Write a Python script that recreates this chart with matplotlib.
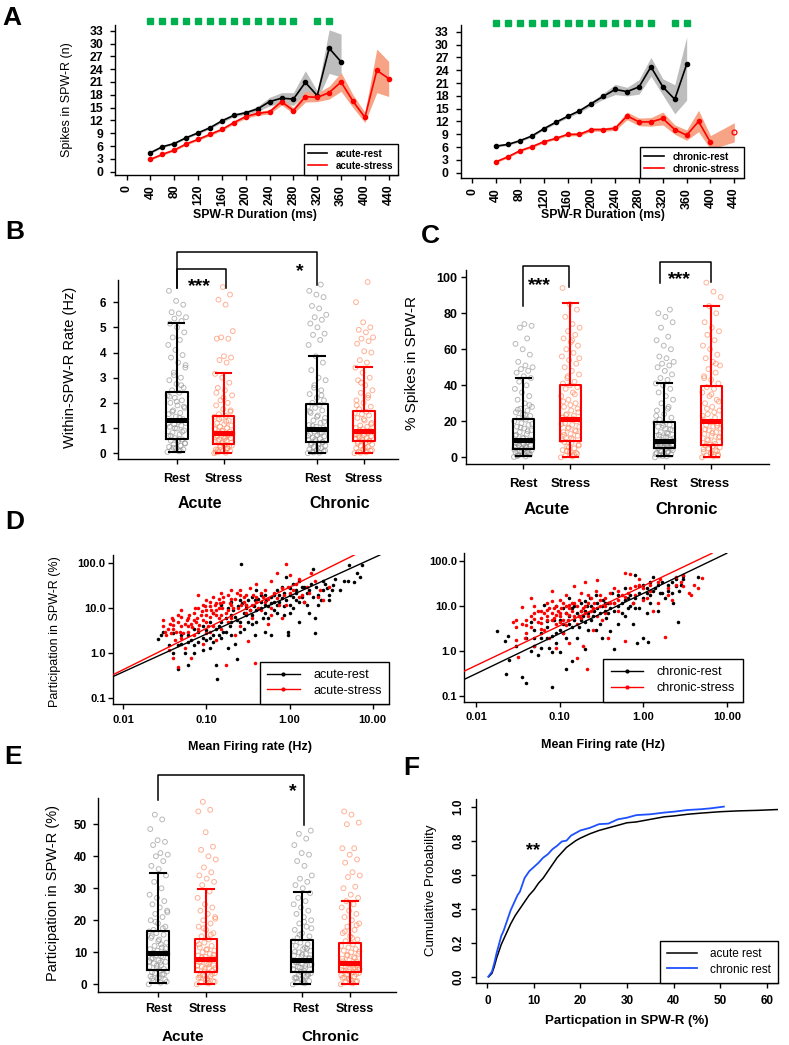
import numpy as np
import matplotlib
matplotlib.use("Agg")
import matplotlib.pyplot as plt
from matplotlib.lines import Line2D

plt.rcParams['font.family'] = ['Liberation Sans', 'DejaVu Sans']
plt.rcParams['axes.linewidth'] = 1.0
plt.rcParams['xtick.major.width'] = 1.0
plt.rcParams['ytick.major.width'] = 1.0
plt.rcParams['xtick.major.size'] = 3.6
plt.rcParams['ytick.major.size'] = 3.6

# ======================= DATA =======================
# ---- Panel A ----
duration_ticks = list(range(0, 441, 40))
spike_ticks = list(range(0, 34, 3))

acute_rest_dur = [40, 60, 80, 100, 120, 140, 160, 180, 200, 220, 240, 260, 280, 300, 320, 340, 360]
acute_rest = [4.45, 5.85, 6.6, 7.96, 9.1, 10.3, 11.9, 13.2, 13.8, 14.7, 16.4, 17.2, 17.0, 20.9, 17.8, 28.9, 25.7]
acute_rest_lo = [4.25, 5.65, 6.4, 7.75, 8.85, 10.0, 11.55, 12.85, 13.4, 14.1, 15.4, 16.0, 15.5, 18.2, 16.8, 23.0, 22.2]
acute_rest_hi = [4.65, 6.05, 6.8, 8.15, 9.35, 10.6, 12.25, 13.55, 14.2, 15.3, 17.4, 18.5, 18.5, 23.6, 18.9, 33.2, 32.2]

acute_stress_dur = [40, 60, 80, 100, 120, 140, 160, 180, 200, 220, 240, 260, 280, 300, 320, 340, 360, 380, 400, 420, 440]
acute_stress = [2.9, 4.06, 5.07, 6.5, 7.57, 8.74, 9.9, 11.5, 12.9, 13.65, 14.0, 16.4, 14.3, 17.55, 17.4, 18.5, 21.0, 16.5, 12.7, 23.7, 21.8]
acute_stress_lo = [2.7, 3.85, 4.85, 6.25, 7.3, 8.45, 9.6, 11.15, 12.5, 13.2, 13.5, 15.6, 13.6, 16.3, 16.4, 17.0, 18.8, 15.0, 11.5, 18.5, 17.6]
acute_stress_hi = [3.1, 4.25, 5.3, 6.75, 7.85, 9.05, 10.2, 11.85, 13.3, 14.1, 14.5, 17.2, 15.0, 18.8, 18.4, 20.0, 23.2, 18.0, 13.9, 28.7, 25.8]

acute_sig_dur = [40, 60, 80, 100, 120, 140, 160, 180, 200, 220, 240, 260, 280, 320, 340]

chronic_rest_dur = [40, 60, 80, 100, 120, 140, 160, 180, 200, 220, 240, 260, 280, 300, 320, 340, 360]
chronic_rest = [6.24, 6.63, 7.5, 8.6, 10.3, 11.8, 13.2, 14.5, 16.2, 17.9, 19.5, 19.0, 20.1, 24.8, 20.1, 17.2, 25.4]
chronic_rest_lo = [6.0, 6.4, 7.25, 8.35, 10.0, 11.5, 12.85, 14.1, 15.7, 17.2, 18.3, 18.0, 18.4, 22.6, 18.2, 13.8, 17.0]
chronic_rest_hi = [6.5, 6.9, 7.75, 8.85, 10.6, 12.1, 13.55, 14.9, 16.7, 18.6, 20.7, 20.0, 21.8, 27.0, 22.0, 20.6, 31.8]

chronic_stress_dur = [40, 60, 80, 100, 120, 140, 160, 180, 200, 220, 240, 260, 280, 300, 320, 340, 360, 380, 400, 440]
chronic_stress = [2.57, 3.74, 5.15, 6.1, 7.25, 8.03, 8.97, 9.0, 10.1, 10.1, 10.4, 13.3, 11.9, 11.9, 12.7, 10.1, 8.8, 12.0, 7.1, 9.6]
chronic_stress_lo = [2.35, 3.5, 4.9, 5.85, 7.0, 7.75, 8.65, 8.65, 9.7, 9.7, 9.9, 12.4, 11.0, 10.9, 11.2, 9.0, 7.6, 9.6, 5.5, 7.2]
chronic_stress_hi = [2.8, 4.0, 5.4, 6.35, 7.5, 8.3, 9.3, 9.35, 10.5, 10.5, 10.9, 14.2, 12.8, 12.9, 14.2, 11.2, 10.0, 14.6, 8.7, 11.7]

chronic_sig_dur = [40, 60, 80, 100, 120, 140, 160, 180, 200, 220, 240, 260, 280, 300, 340, 360]

# ---- Box panels (B, C, E): groups Acute-Rest, Acute-Stress, Chronic-Rest, Chronic-Stress ----
group_labels = ['Rest', 'Stress', 'Rest', 'Stress']
condition_labels = ['Acute', 'Chronic']

B_q1 = [0.56, 0.37, 0.44, 0.49]
B_med = [1.32, 0.82, 0.96, 0.88]
B_q3 = [2.42, 1.49, 1.94, 1.67]
B_lo = [0.04, 0.0, 0.0, 0.0]
B_hi = [5.16, 3.17, 3.87, 3.41]
B_acute_rest = [0.05, 0.08, 0.12, 0.15, 0.2, 0.25, 0.3, 0.35, 0.4, 0.45, 0.5, 0.55,
                0.6, 0.68, 0.75, 0.82, 0.9, 0.98, 1.05, 1.1, 1.15, 1.2, 1.25, 1.3,
                1.35, 1.45, 1.55, 1.6, 1.7, 1.8, 1.9, 2.0, 2.1, 2.2, 2.3, 2.4,
                2.5, 2.6, 2.75, 2.9, 3.0, 3.2, 3.4, 3.6, 3.8, 3.9, 4.1, 4.3, 4.5, 4.6, 4.8, 5.0, 5.15,
                5.25, 5.35, 5.4, 5.55, 5.6, 5.9, 6.05, 6.45,
                0.1, 0.22, 0.38, 0.52, 0.7, 0.85, 1.0, 1.18, 1.4, 1.65, 1.85, 2.05, 2.25, 2.7, 3.1, 3.5]
B_acute_stress = [0.0, 0.02, 0.05, 0.08, 0.1, 0.15, 0.2, 0.25, 0.3, 0.35, 0.12, 0.28,
                  0.4, 0.45, 0.5, 0.55, 0.6, 0.65, 0.7, 0.75, 0.8, 0.78, 0.62, 0.48,
                  0.85, 0.9, 0.95, 1.0, 1.05, 1.1, 1.15, 1.2, 1.3, 1.4, 1.45, 1.48,
                  1.55, 1.65, 1.75, 1.9, 2.0, 2.1, 2.3, 2.5, 2.6, 2.8, 3.0, 3.15,
                  3.6, 3.7, 3.8, 3.85, 4.55, 4.55, 4.6, 4.85, 5.9, 6.1, 6.3, 6.6,
                  0.04, 0.18, 0.32, 0.42, 0.58, 0.68, 0.72, 0.88, 0.98, 1.25, 1.35, 1.7, 2.2, 2.4]
B_chronic_rest = [0.0, 0.02, 0.05, 0.08, 0.12, 0.16, 0.2, 0.25, 0.3, 0.35, 0.4, 0.43,
                  0.48, 0.52, 0.57, 0.62, 0.67, 0.72, 0.77, 0.82, 0.86, 0.9, 0.93, 0.95,
                  1.0, 1.05, 1.12, 1.2, 1.3, 1.4, 1.5, 1.6, 1.7, 1.8, 1.85, 1.92,
                  2.0, 2.1, 2.2, 2.35, 2.5, 2.6, 2.9, 3.0, 3.3, 3.6, 3.85,
                  4.3, 4.5, 4.7, 4.75, 5.0, 5.15, 5.3, 5.4, 5.5, 5.75, 5.85, 6.2, 6.3, 6.45, 6.7,
                  0.03, 0.1, 0.22, 0.33, 0.45, 0.55, 0.7, 0.8, 1.08, 1.25, 1.45, 1.65, 2.3, 2.7]
B_chronic_stress = [0.0, 0.03, 0.06, 0.1, 0.15, 0.2, 0.25, 0.3, 0.35, 0.4, 0.45, 0.48,
                    0.52, 0.56, 0.6, 0.64, 0.68, 0.72, 0.76, 0.8, 0.84, 0.86, 0.87, 0.7,
                    0.9, 0.95, 1.0, 1.05, 1.1, 1.2, 1.3, 1.4, 1.5, 1.55, 1.6, 1.65,
                    1.75, 1.85, 2.0, 2.1, 2.2, 2.4, 2.5, 2.7, 2.9, 3.0, 3.2, 3.4,
                    3.6, 3.7, 4.0, 4.05, 4.35, 4.45, 4.55, 4.6, 4.8, 4.9, 5.0, 5.2, 6.0, 6.8,
                    0.02, 0.12, 0.22, 0.38, 0.5, 0.62, 0.74, 0.82, 0.92, 1.15, 1.35, 1.9, 2.3, 2.8]

C_q1 = [4.6, 9.0, 5.4, 6.8]
C_med = [9.6, 21.3, 9.3, 20.2]
C_q3 = [21.1, 40.0, 19.8, 39.6]
C_lo = [0.7, 0.0, 0.6, 0.0]
C_hi = [44.2, 85.9, 41.1, 84.0]
C_acute_rest = [0.2, 0.5, 1.0, 1.5, 2.0, 2.5, 3.0, 3.5, 4.0, 4.5, 1.2, 2.8,
                5, 5.5, 6, 6.5, 7, 7.5, 8, 8.5, 9, 9.5, 6.2, 7.8,
                10, 11, 12, 13, 14, 15, 16, 17, 18, 19, 20, 21,
                22, 23, 24, 25, 26, 27, 28, 30, 32, 34, 36, 38, 40, 42, 44,
                45, 47, 48, 49, 50, 51, 53, 57, 60, 63, 66, 72, 73, 74,
                0.8, 1.8, 3.2, 4.2, 5.2, 6.8, 8.8, 10.5, 12.5, 14.5, 16.5, 18.5, 23.5, 26.5, 29]
C_acute_stress = [0, 0.5, 1, 2, 3, 4, 5, 6, 7, 8, 8.5, 2.5, 5.5,
                  9.5, 10, 11, 12, 13, 14, 15, 16, 17, 18, 19, 20, 21,
                  22, 23, 24, 25, 26, 28, 30, 32, 34, 36, 38, 39, 40,
                  41, 42, 44, 46, 48, 50, 52, 54, 56, 58, 60, 62, 64, 66, 68, 70, 72, 74, 78, 82, 85, 94,
                  1.5, 3.5, 6.5, 10.5, 12.5, 14.5, 16.5, 18.5, 21.5, 23.5, 27, 29, 31, 35, 45, 55, 65]
C_chronic_rest = [0, 0.5, 1, 1.5, 2, 2.5, 3, 3.5, 4, 4.5, 5, 5.3,
                  5.6, 6, 6.4, 6.8, 7.2, 7.6, 8, 8.4, 8.8, 9.2, 7, 8.2,
                  10, 11, 12, 13, 14, 15, 16, 17, 18, 19, 19.5, 13.5,
                  21, 22, 24, 26, 28, 30, 32, 34, 36, 38, 40, 41,
                  43, 44, 46, 48, 50, 51, 52, 53, 55, 56, 60, 62, 65, 67, 72, 75, 78, 80, 82,
                  0.8, 1.8, 2.8, 3.8, 4.8, 5.8, 6.6, 7.8, 9.6, 10.5, 11.5, 12.5, 15.5, 17.5, 23, 27]
C_chronic_stress = [0, 0.5, 1, 1.5, 2, 3, 4, 5, 5.5, 6, 6.5, 3.5,
                    7, 8, 9, 10, 11, 12, 13, 14, 15, 16, 17, 18, 19, 20,
                    21, 22, 24, 26, 28, 30, 32, 34, 36, 38, 39,
                    41, 43, 45, 47, 49, 51, 53, 55, 57, 60, 62, 65, 68, 70, 72, 75, 80, 84,
                    89, 92, 97,
                    0.8, 2.5, 4.5, 7.5, 9.5, 11.5, 13.5, 15.5, 17.5, 19.5, 23, 25, 27, 31, 35, 44, 52]

E_q1 = [4.4, 3.75, 3.75, 3.85]
E_med = [9.7, 7.9, 7.6, 6.75]
E_q3 = [16.6, 14.2, 13.85, 12.8]
E_lo = [0.3, 0.0, 0.0, 0.0]
E_hi = [34.9, 29.8, 28.75, 26.1]
E_acute_rest = [0, 0.5, 1, 1.5, 2, 2.5, 3, 3.5, 4, 4.3, 1.8, 3.2,
                5, 5.5, 6, 6.5, 7, 7.5, 8, 8.5, 9, 9.5, 6.8, 8.2,
                10, 10.5, 11, 11.5, 12, 13, 14, 15, 15.5, 16, 16.5, 12.5,
                17, 18, 19, 20, 21, 22, 23, 24, 25, 26, 27, 28, 30, 32, 34,
                36, 37, 38.5, 40, 40.5, 41, 43.5, 44.5, 45, 48.5, 51.5, 53,
                0.8, 2.2, 3.8, 4.8, 5.8, 7.2, 8.8, 9.8, 11.2, 13.5, 14.5, 17.5, 19.5, 22.5]
E_acute_stress = [0, 0.3, 0.6, 1, 1.5, 2, 2.5, 3, 3.5, 1.2, 2.2, 3.2,
                  4, 4.5, 5, 5.5, 6, 6.5, 7, 7.5, 7.8, 5.2, 6.2, 7.2,
                  8.2, 8.6, 9, 9.5, 10, 10.5, 11, 11.5, 12, 13, 13.5, 14,
                  15, 16, 17, 18, 19, 20, 21, 22, 23, 24, 25, 27, 29,
                  31, 32, 33, 34, 35, 36.5, 39, 40, 42, 43, 47.5, 54, 54.5, 57,
                  0.8, 1.8, 2.8, 4.2, 4.8, 5.8, 6.8, 8.4, 9.2, 10.8, 12.5, 15.5, 17.5, 20.5]
E_chronic_rest = [0, 0.3, 0.6, 1, 1.5, 2, 2.5, 3, 3.5, 1.2, 2.2, 3.2,
                  4, 4.5, 5, 5.5, 6, 6.5, 7, 7.4, 5.2, 6.2, 4.2, 6.8,
                  8, 8.5, 9, 9.5, 10, 10.5, 11, 12, 12.5, 13, 13.5, 11.5,
                  14.5, 15, 16, 17, 18, 19, 20, 21, 22, 23, 24, 25, 26, 27, 28.5,
                  30, 31, 32, 33, 34, 37, 38.5, 40.5, 41, 43.5, 45.5, 47, 48,
                  0.8, 1.8, 2.8, 3.8, 4.8, 5.8, 7.2, 8.2, 9.2, 10.2, 11.2, 15.5, 17.5, 19.5]
E_chronic_stress = [0, 0.3, 0.6, 1, 1.5, 2, 2.5, 3, 3.5, 1.2, 2.2, 3.2,
                    4, 4.5, 5, 5.5, 6, 6.5, 4.2, 5.2, 6.2, 4.8, 5.8, 6.6,
                    7, 7.5, 8, 8.5, 9, 9.5, 10, 10.5, 11, 11.5, 12, 12.5,
                    13.5, 14, 15, 16, 17, 18, 19, 20, 21, 22, 23, 24, 25, 26,
                    27, 28, 30, 30.5, 33.5, 34, 35, 38, 39, 40.5, 42.5, 42.5, 50, 50.5, 53, 54,
                    0.8, 1.8, 2.8, 3.8, 4.4, 5.4, 6.4, 7.2, 8.2, 9.2, 10.2, 14.5, 16.5, 18.5]

# ---- Panel D (log-log scatter) ----
rate_ticks = [0.01, 0.1, 1, 10]
rate_ticklabels = ['0.01', '0.10', '1.00', '10.00']
part_ticks = [0.1, 1, 10, 100]
part_ticklabels = ['0.1', '1.0', '10.0', '100.0']

acute_rest_rate = [0.026, 0.028, 0.035, 0.04, 0.045, 0.05, 0.055, 0.06, 0.065, 0.07, 0.08, 0.09, 0.1, 0.11, 0.12,
                   0.13, 0.135, 0.14, 0.15, 0.17, 0.18, 0.2, 0.22, 0.23, 0.25, 0.26, 0.28, 0.3, 0.32, 0.35, 0.38,
                   0.4, 0.45, 0.5, 0.5, 0.55, 0.6, 0.6, 0.65, 0.7, 0.75, 0.8, 0.85, 0.9, 0.95, 0.95, 1.0, 1.1,
                   1.2, 1.3, 1.4, 1.5, 1.7, 1.8, 1.9, 2.0, 2.0, 2.2, 2.5, 2.8, 3.0, 3.2, 4.5, 5.2, 6.0, 6.5,
                   7.0, 7.5, 0.12, 0.15, 0.18, 0.2, 0.25, 0.3, 0.35, 0.4, 0.45, 0.28, 0.5, 0.7, 1.0, 1.2, 1.5,
                   2.5, 3.5, 0.16, 0.09, 0.11, 0.07, 0.06, 0.045, 0.04, 0.03, 0.2, 0.24, 0.65, 0.85, 1.1, 1.6,
                   2.2, 1.3, 0.38, 0.48, 0.33, 0.23, 0.13,
                   0.05, 0.06, 0.07, 0.08, 0.09, 0.1, 0.11, 0.12, 0.14, 0.15, 0.17, 0.19, 0.2, 0.21, 0.22, 0.25,
                   0.27, 0.3, 0.32, 0.35, 0.37, 0.4, 0.42, 0.45, 0.5, 0.52, 0.55, 0.6, 0.65, 0.7, 0.75, 0.8,
                   0.85, 0.9, 1.0, 1.0, 1.1, 1.2, 1.3, 1.4, 1.6, 1.7, 1.9, 2.1, 2.4, 2.7, 3.0, 3.3, 4.0, 5.0]
acute_rest_part = [2.1, 2.5, 1.5, 1.0, 0.45, 1.6, 1.0, 0.55, 2.0, 1.0, 3.0, 2.2, 2.0, 1.3, 2.5,
                   0.55, 0.27, 4.0, 2.2, 6.0, 1.3, 5.0, 1.6, 0.75, 3.0, 98, 8.0, 12, 5, 4.5, 15,
                   9, 10, 12, 3, 6, 2.5, 18, 14, 8, 20, 30, 7, 50, 3, 2.6, 20, 10,
                   25, 40, 18, 14, 8, 35, 75, 6, 2.8, 20, 40, 28, 15, 25, 40, 90, 38, 60,
                   50, 92, 8, 12, 10, 7, 15, 7, 18, 25, 14, 3.5, 20, 25, 12, 15, 30,
                   25, 45, 3, 4, 5, 3.5, 2.5, 1.5, 2.8, 3.0, 14, 11, 9, 22, 35, 22,
                   12, 5, 2.5, 6, 9, 5.5, 3.5,
                   2.5, 1.8, 1.5, 1.8, 1.2, 3.2, 2.2, 1.8, 2.5, 5, 3, 4, 2.5, 9, 6.5, 5,
                   13, 10, 15, 7, 11, 5, 16, 20, 8, 15, 11, 13, 20, 12, 14, 17,
                   11, 15, 28, 8, 18, 22, 14, 30, 12, 25, 18, 30, 15, 35, 20, 32, 25, 40]
acute_stress_rate = [0.03, 0.032, 0.033, 0.035, 0.036, 0.038, 0.04, 0.04, 0.042, 0.045, 0.045, 0.048, 0.05, 0.05,
                     0.055, 0.055, 0.06, 0.06, 0.065, 0.065, 0.07, 0.07, 0.075, 0.08, 0.08, 0.08, 0.085, 0.09,
                     0.09, 0.1, 0.1, 0.1, 0.1, 0.11, 0.11, 0.12, 0.12, 0.12, 0.13, 0.13, 0.14, 0.15, 0.15, 0.15,
                     0.16, 0.17, 0.18, 0.18, 0.18, 0.2, 0.2, 0.2, 0.22, 0.22, 0.24, 0.25, 0.25, 0.28, 0.3, 0.3,
                     0.32, 0.35, 0.35, 0.38, 0.4, 0.4, 0.45, 0.5, 0.5, 0.55, 0.6, 0.6, 0.7, 0.7, 0.8, 0.8, 0.9,
                     1.0, 1.0, 1.2, 1.4, 1.5, 1.6, 1.8, 2.0, 2.2, 2.5, 3.0, 0.04, 0.05, 0.06, 0.07, 0.09, 0.13,
                     0.9, 0.11, 0.14, 0.25, 0.45, 1.3, 0.33, 0.6,
                     0.03, 0.034, 0.037, 0.04, 0.043, 0.046, 0.05, 0.052, 0.058, 0.062, 0.067, 0.072, 0.078,
                     0.082, 0.088, 0.095, 0.1, 0.105, 0.11, 0.115, 0.125, 0.13, 0.14, 0.145, 0.155, 0.16, 0.17,
                     0.19, 0.2, 0.21, 0.23, 0.26, 0.28, 0.3, 0.33, 0.36, 0.4, 0.42, 0.48, 0.55, 0.65, 0.75,
                     0.85, 0.95, 1.1, 1.3, 1.7, 2.3]
acute_stress_part = [5.5, 3.0, 2.5, 1.2, 4.5, 6.0, 3.5, 0.8, 2.0, 5.0, 0.5, 3.0, 9.0, 2.2,
                     4.5, 1.3, 6, 3, 4.5, 0.8, 8, 2.5, 5, 20, 10, 3.5, 7, 12,
                     1.6, 15, 9, 5, 2.8, 11, 6.5, 18, 8, 4, 13, 2, 10, 22, 7, 3.5,
                     14, 0.55, 20, 9, 5, 25, 12, 6, 16, 2.5, 10, 25, 4, 14, 20, 8,
                     1.9, 12, 6, 0.6, 18, 35, 9, 25, 14, 4.5, 40, 10, 60, 17, 28, 6, 12,
                     55, 22, 35, 20, 14, 30, 60, 40, 18, 15, 30, 4.2, 6.5, 4, 5.5, 5.5, 7,
                     95, 3, 16, 20, 22, 45, 28, 7,
                     4, 3.5, 2.8, 5.5, 3, 7, 4, 2.8, 5.5, 7, 3.8, 10, 6,
                     4.2, 8.5, 11, 7, 4, 14, 9, 12, 9, 6, 13, 10, 18, 8,
                     13, 16, 10, 22, 12, 18, 12, 9, 20, 14, 10, 18, 16, 22, 12,
                     20, 30, 25, 18, 22, 25]
chronic_rest_rate = [0.018, 0.022, 0.023, 0.024, 0.025, 0.03, 0.035, 0.04, 0.045, 0.045, 0.05, 0.05, 0.055, 0.06,
                     0.065, 0.07, 0.075, 0.08, 0.08, 0.09, 0.09, 0.1, 0.1, 0.11, 0.12, 0.12, 0.13, 0.13, 0.14,
                     0.15, 0.16, 0.18, 0.18, 0.2, 0.2, 0.22, 0.23, 0.25, 0.27, 0.28, 0.3, 0.32, 0.35, 0.38, 0.4,
                     0.45, 0.45, 0.5, 0.5, 0.55, 0.6, 0.6, 0.7, 0.75, 0.8, 0.8, 0.85, 0.9, 1.0, 1.0, 1.1, 1.15,
                     1.2, 1.3, 1.4, 1.5, 1.7, 1.8, 2.0, 2.2, 2.5, 2.6, 2.7, 3.0, 4.5, 0.14, 0.17, 0.24, 0.33,
                     0.42, 0.65, 1.1, 1.6, 2.3, 0.06, 0.085, 0.11, 0.2, 0.27, 0.36, 0.9, 1.2, 0.07, 0.04,
                     0.05, 0.06, 0.07, 0.08, 0.09, 0.1, 0.11, 0.12, 0.13, 0.14, 0.15, 0.16, 0.17, 0.18, 0.19,
                     0.2, 0.21, 0.22, 0.24, 0.26, 0.28, 0.3, 0.32, 0.35, 0.38, 0.4, 0.45, 0.5, 0.55, 0.6, 0.65,
                     0.7, 0.75, 0.8, 0.9, 1.0, 1.1, 1.2, 1.3, 1.5, 1.7, 2.0, 2.2, 2.5, 2.8, 3.0]
chronic_rest_part = [2.8, 1.7, 0.32, 2.2, 0.65, 1.3, 0.27, 0.2, 1.0, 4.5, 1.3, 2.0, 0.85, 1.2,
                     11, 2.0, 1.2, 0.16, 0.95, 2.5, 10, 5, 0.95, 2.5, 7, 0.4, 4, 15, 0.6,
                     10, 2.0, 12, 5, 8, 1.1, 3, 15, 6, 18, 9, 4, 2, 12, 7, 2.8,
                     8, 1.1, 18, 4, 12, 25, 6, 10, 4, 15, 50, 1.5, 9, 30, 2.0, 20, 1.6,
                     12, 45, 25, 8, 35, 15, 30, 20, 40, 4.6, 22, 48, 45, 3.5, 6, 10, 14,
                     20, 15, 7, 20, 12, 2.5, 5, 9, 13, 3, 5.5, 28, 35, 4.8, 2.0,
                     3, 2, 3.5, 2.2, 1.5, 3, 4, 2, 6, 9, 5, 7, 3.5, 8, 6,
                     4.5, 10, 7, 5, 8, 12, 7, 10, 8, 12, 9, 12, 10, 7, 14, 9,
                     18, 12, 9, 20, 15, 25, 18, 22, 30, 20, 22, 35, 28, 30, 40]
chronic_stress_rate = [0.028, 0.03, 0.03, 0.032, 0.035, 0.038, 0.04, 0.045, 0.045, 0.05, 0.05, 0.055, 0.06, 0.06,
                       0.065, 0.07, 0.07, 0.075, 0.08, 0.08, 0.085, 0.09, 0.09, 0.1, 0.1, 0.11, 0.11, 0.12, 0.12,
                       0.13, 0.13, 0.14, 0.15, 0.15, 0.16, 0.16, 0.18, 0.18, 0.19, 0.2, 0.2, 0.21, 0.22, 0.24,
                       0.25, 0.27, 0.28, 0.3, 0.32, 0.35, 0.38, 0.4, 0.45, 0.5, 0.55, 0.6, 0.6, 0.65, 0.7, 0.75,
                       0.8, 0.9, 1.0, 1.1, 1.2, 1.3, 1.5, 1.6, 1.8, 2.0, 2.2, 2.5, 2.8, 3.0, 3.5, 3.7, 4.0, 4.5,
                       5.0, 0.05, 0.07, 0.09, 0.1, 0.13, 0.17, 0.25, 0.35, 0.04, 0.06, 0.08, 0.12, 0.22, 0.3, 0.5,
                       0.03, 0.035, 0.04, 0.045, 0.05, 0.055, 0.06, 0.065, 0.07, 0.075, 0.08, 0.085, 0.09, 0.095,
                       0.1, 0.105, 0.11, 0.12, 0.125, 0.13, 0.14, 0.15, 0.16, 0.17, 0.18, 0.19, 0.2, 0.22, 0.24,
                       0.26, 0.28, 0.3, 0.35, 0.4, 0.45, 0.5, 0.6, 0.7, 0.8, 0.9, 1.0, 1.2, 1.5, 2.0, 2.5, 3.0]
chronic_stress_part = [4.5, 3.5, 1.8, 0.75, 9.5, 2.0, 5, 15, 3.5, 7, 1.3, 4.5, 8, 5.5,
                       3, 6, 12, 2.0, 22, 5, 9, 4, 1.2, 14, 7, 2.5, 5, 18, 10,
                       1.5, 6.5, 8, 28, 12, 0.7, 4, 20, 8, 1.3, 35, 10, 0.4, 6, 15,
                       3, 22, 38, 10, 5, 15, 2.0, 12, 25, 8, 18, 55, 1.7, 20, 52, 12,
                       28, 40, 25, 15, 30, 8, 12, 40, 2.1, 25, 14, 45, 35, 50, 20, 18, 30, 25,
                       43, 10, 8.5, 6.5, 4.5, 11, 6, 9, 7, 2.5, 3.2, 13, 3.8, 12, 18, 14,
                       5, 4, 3.8, 6, 5.2, 8, 4.2, 7, 5, 9, 7, 5.5, 10, 8,
                       6, 9, 12, 7, 5, 9, 12, 6, 10, 14, 5.5, 9, 7, 18, 8,
                       12, 6, 14, 10, 20, 12, 22, 16, 25, 18, 30, 14, 22, 35, 18, 30, 28]

# fitted power-law lines: log10(part) = intercept + slope * log10(rate)
acute_fit_intercept = [1.267, 1.467]      # rest, stress
acute_fit_slope = [0.84, 0.915]
chronic_fit_intercept = [1.288, 1.453]
chronic_fit_slope = [0.893, 0.884]

# ---- Panel F (cumulative distributions) ----
acute_rest_cdf_x = [0.3, 1, 1.5, 2, 2.5, 3, 3.5, 4, 5, 6, 7, 8, 9, 10, 11, 12, 13, 14, 15, 16, 17, 18, 19, 20,
                    22, 24, 26, 28, 30, 32, 34, 36, 38, 40, 43, 46, 50, 54, 58, 62.5]
acute_rest_cdf_p = [0.0, 0.02, 0.06, 0.11, 0.15, 0.19, 0.22, 0.25, 0.31, 0.36, 0.40, 0.44, 0.48, 0.51, 0.55,
                    0.58, 0.62, 0.66, 0.70, 0.73, 0.76, 0.78, 0.80, 0.815, 0.84, 0.86, 0.875, 0.89, 0.905, 0.91,
                    0.92, 0.93, 0.94, 0.945, 0.955, 0.962, 0.97, 0.975, 0.978, 0.983]
chronic_rest_cdf_x = [0.2, 1, 1.5, 2, 2.5, 3, 3.5, 4, 4.5, 5, 5.5, 6, 6.5, 7, 7.5, 8, 9, 10, 11, 12, 13, 14, 15,
                      16, 17, 18, 19, 20, 22, 24, 26, 28, 30, 32, 35, 38, 40, 43, 46, 48, 50.8]
chronic_rest_cdf_p = [0.0, 0.03, 0.08, 0.14, 0.19, 0.24, 0.27, 0.31, 0.35, 0.39, 0.42, 0.45, 0.48, 0.5, 0.54,
                      0.58, 0.62, 0.645, 0.67, 0.7, 0.72, 0.75, 0.77, 0.795, 0.8, 0.83, 0.845, 0.86, 0.875,
                      0.897, 0.9, 0.925, 0.935, 0.95, 0.955, 0.965, 0.97, 0.98, 0.985, 0.99, 1.0]

# ======================= STYLE =======================
W, H = 789, 1045
RED = '#FF0000'
RED_BAND = '#F7A386'
GRAY_BAND = '#BDBDBD'
GREEN = '#00B050'
REST_PT = '#8A8A8A'
STRESS_PT = '#FF7F50'
BLUE = '#1E50FF'

fig = plt.figure(figsize=(W / 100, H / 100), dpi=100)


def add_ax(l, t, r, b):
    ax = fig.add_axes([l / W, 1 - b / H, (r - l) / W, (b - t) / H])
    ax.spines['top'].set_visible(False)
    ax.spines['right'].set_visible(False)
    return ax


def ftext(x, y, s, **kw):
    kw.setdefault('ha', 'center')
    kw.setdefault('va', 'center')
    fig.text(x / W, 1 - y / H, s, **kw)


def star_text(x, y, s, fs):
    # place so that the asterisk glyph centre sits at pixel (x, y)
    off = 0.56 * fs * 100 / 72
    fig.text(x / W, 1 - (y + off) / H, s, ha='center', va='baseline', fontsize=fs, fontweight='bold')


def jitter(n, w):
    k = np.arange(n)
    return ((k * 0.6180339887) % 1.0 - 0.5) * 2 * w


# ---------------- Panel A ----------------
def segments(x):
    x = np.asarray(x)
    breaks = np.where(np.diff(x) > 20)[0] + 1
    return np.split(np.arange(len(x)), breaks)


def panel_a(ax, rx, ry, rlo, rhi, sx, sy, slo, shi, sig, sig_y, labels, xlim, ylim):
    ax.fill_between(rx, rlo, rhi, color=GRAY_BAND, lw=0, zorder=1)
    ax.fill_between(sx, slo, shi, color=RED_BAND, lw=0, zorder=1)
    ax.plot(rx, ry, color='black', lw=1.2, marker='o', ms=3, zorder=3, label=labels[0])
    first = True
    for seg in segments(sx):
        xs = np.asarray(sx)[seg]
        ys = np.asarray(sy)[seg]
        if len(seg) > 1:
            ax.plot(xs, ys, color=RED, lw=1.2, marker='o', ms=3, zorder=3,
                    label=labels[1] if first else None)
            first = False
        else:
            ax.plot(xs, ys, ls='none', marker='o', ms=3.5, mfc='none', mec=RED, mew=0.9, zorder=3)
    ax.plot(sig, [sig_y] * len(sig), ls='none', marker='s', ms=4.4, color=GREEN, clip_on=False, zorder=4)
    ax.set_xlim(*xlim)
    ax.set_ylim(*ylim)
    ax.set_xticks(duration_ticks)
    ax.set_xticklabels([str(v) for v in duration_ticks], rotation=90, fontsize=8.8, fontweight='bold')
    ax.set_yticks(spike_ticks)
    ax.set_yticklabels([str(v) for v in spike_ticks], fontsize=8.8, fontweight='bold')
    ax.tick_params(axis='x', pad=3.5)
    ax.tick_params(axis='y', pad=5)
    handles = [Line2D([], [], color='black', lw=1.2), Line2D([], [], color=RED, lw=1.2)]
    leg = ax.legend(handles, labels, loc='lower right', bbox_to_anchor=(1, 0), borderaxespad=0,
                    fancybox=False, edgecolor='black', framealpha=1, handlelength=2.0,
                    handletextpad=0.9, borderpad=0.45, labelspacing=0.2,
                    prop={'size': 7, 'weight': 'bold'})
    leg.get_frame().set_linewidth(1.0)


axA1 = add_ax(115, 25, 398, 175)
panel_a(axA1, acute_rest_dur, acute_rest, acute_rest_lo, acute_rest_hi,
        acute_stress_dur, acute_stress, acute_stress_lo, acute_stress_hi,
        acute_sig_dur, 35.3, ['acute-rest', 'acute-stress'], (-19.6, 455.6), (-0.77, 34.33))
axA2 = add_ax(460.7, 25, 744, 178)
panel_a(axA2, chronic_rest_dur, chronic_rest, chronic_rest_lo, chronic_rest_hi,
        chronic_stress_dur, chronic_stress, chronic_stress_lo, chronic_stress_hi,
        chronic_sig_dur, 35.1, ['chronic-rest', 'chronic-stress'], (-19.5, 456.3), (-1.24, 34.6))
ftext(67, 100, 'Spikes in SPW-R (n)', rotation=90, fontsize=9)
ftext(255, 215, 'SPW-R Duration (ms)', fontsize=8.8, fontweight='bold')
ftext(603, 215, 'SPW-R Duration (ms)', fontsize=8.8, fontweight='bold')

# ---------------- Box panels ----------------
positions = [1, 2, 4, 5]
box_colors = ['black', RED, 'black', RED]
pt_colors = [REST_PT, STRESS_PT, REST_PT, STRESS_PT]


def box_panel(ax, q1, med, q3, lo, hi, groups, xlim, ylim, yticks, ytick_fs, ypad):
    for pos, vals, pc in zip(positions, groups, pt_colors):
        v = np.asarray(vals, dtype=float)
        ax.scatter(pos + jitter(len(v), 0.2), v, s=12, facecolors='none', edgecolors=pc,
                   linewidths=0.7, alpha=0.6, zorder=2, clip_on=False)
    for i, pos in enumerate(positions):
        st = [dict(q1=q1[i], med=med[i], q3=q3[i], whislo=lo[i], whishi=hi[i], fliers=[])]
        c = box_colors[i]
        ax.bxp(st, positions=[pos], widths=0.46, capwidths=0.33, showfliers=False,
               boxprops=dict(color=c, lw=1.5), medianprops=dict(color=c, lw=3.6, solid_capstyle='butt'),
               whiskerprops=dict(color=c, lw=1.5, ls='-'), capprops=dict(color=c, lw=1.5),
               manage_ticks=False, zorder=3)
    ax.set_xlim(*xlim)
    ax.set_ylim(*ylim)
    ax.set_xticks(positions)
    ax.set_xticklabels([''] * 4)
    ax.set_yticks(yticks)
    ax.set_yticklabels([str(v) for v in yticks], fontsize=ytick_fs, fontweight='bold')
    ax.tick_params(axis='y', pad=ypad)


def bracket(ax, x1, y1, x2, y2, ytop):
    ax.plot([x1, x1, x2, x2], [y1, ytop, ytop, y2], color='black', lw=1.1, clip_on=False, zorder=5)


# Panel B
axB = add_ax(118.3, 280, 398, 459)
box_panel(axB, B_q1, B_med, B_q3, B_lo, B_hi,
          [B_acute_rest, B_acute_stress, B_chronic_rest, B_chronic_stress],
          (-0.25, 5.73), (-0.23, 6.88), list(range(0, 7)), 8.5, 5)
bracket(axB, 1, 6.55, 4.0, 6.68, 8.0)
bracket(axB, 1, 6.55, 2.05, 6.55, 7.3)
star_text(199, 280, '***', 14)
star_text(300, 265, '*', 14)
ftext(70, 367, 'Within-SPW-R Rate (Hz)', rotation=90, fontsize=10.5)
for x, s in zip([176.7, 223.3, 317.3, 363.3], group_labels):
    ftext(x, 479, s, fontsize=9, fontweight='bold')
ftext(200, 503, condition_labels[0], fontsize=11.5, fontweight='bold')
ftext(340, 503, condition_labels[1], fontsize=11.5, fontweight='bold')

# Panel C
axC = add_ax(466, 270, 769.3, 464)
box_panel(axC, C_q1, C_med, C_q3, C_lo, C_hi,
          [C_acute_rest, C_acute_stress, C_chronic_rest, C_chronic_stress],
          (-0.22, 6.23), (-3.7, 104), list(range(0, 101, 20)), 9, 2.5)
bracket(axC, 1, 84, 1.96, 94.8, 106.3)
bracket(axC, 3.9, 96.7, 4.98, 97.6, 108.3)
star_text(539, 279, '***', 14)
star_text(679, 273, '***', 14)
ftext(412, 363, '% Spikes in SPW-R', rotation=90, fontsize=11)
for x, s in zip([523.3, 570.3, 663.3, 710], group_labels):
    ftext(x, 484, s, fontsize=9.5, fontweight='bold')
ftext(546.7, 510, condition_labels[0], fontsize=12, fontweight='bold')
ftext(686.7, 510, condition_labels[1], fontsize=12, fontweight='bold')

# Panel E
axE = add_ax(98.3, 798.3, 396, 991.7)
box_panel(axE, E_q1, E_med, E_q3, E_lo, E_hi,
          [E_acute_rest, E_acute_stress, E_chronic_rest, E_chronic_stress],
          (-0.25, 5.95), (-2.3, 58.1), list(range(0, 51, 10)), 8.5, 4.5)
bracket(axE, 1, 57.6, 4.03, 49.8, 65.4)
star_text(293, 785, '*', 14)
ftext(53, 893, 'Participation in SPW-R (%)', rotation=90, fontsize=10.5)
for x, s in zip([159, 207.7, 306, 354.3], group_labels):
    ftext(x, 1009.3, s, fontsize=9, fontweight='bold')
ftext(183.3, 1036.7, condition_labels[0], fontsize=11, fontweight='bold')
ftext(330, 1036.7, condition_labels[1], fontsize=11, fontweight='bold')


# ---------------- Panel D ----------------
def panel_d(ax, rr, rp, sr, sp, icpt, slope, labels, xlim, ylim):
    ax.set_xscale('log')
    ax.set_yscale('log')
    ax.scatter(rr, rp, s=6.5, color='black', lw=0, zorder=3)
    ax.scatter(sr, sp, s=6.5, color=RED, lw=0, zorder=3)
    ax.axline((1, 10 ** icpt[0]), (10, 10 ** (icpt[0] + slope[0])), color='black', lw=1.0, zorder=4)
    ax.axline((1, 10 ** icpt[1]), (10, 10 ** (icpt[1] + slope[1])), color=RED, lw=1.0, zorder=4)
    ax.set_xlim(*xlim)
    ax.set_ylim(*ylim)
    ax.set_xticks(rate_ticks)
    ax.set_xticklabels(rate_ticklabels, fontsize=8, fontweight='bold')
    ax.set_yticks(part_ticks)
    ax.set_yticklabels(part_ticklabels, fontsize=8, fontweight='bold')
    ax.minorticks_off()
    ax.tick_params(axis='x', pad=4)
    ax.tick_params(axis='y', pad=1.5)
    handles = [Line2D([], [], color='black', lw=1.0, marker='o', ms=2),
               Line2D([], [], color=RED, lw=1.0, marker='o', ms=2)]
    leg = ax.legend(handles, labels, loc='lower right', bbox_to_anchor=(1, 0), borderaxespad=0,
                    fancybox=False, edgecolor='black', framealpha=1, handlelength=2.6,
                    handletextpad=1.1, borderpad=0.6, labelspacing=0.3, fontsize=9)
    leg.get_frame().set_linewidth(1.0)


axD1 = add_ax(112.7, 555, 389.3, 704.3)
panel_d(axD1, acute_rest_rate, acute_rest_part, acute_stress_rate, acute_stress_part,
        acute_fit_intercept, acute_fit_slope, ['acute-rest', 'acute-stress'],
        (10 ** -2.128, 10 ** 1.2), (10 ** -1.133, 10 ** 2.18))
axD2 = add_ax(464, 553.3, 742.7, 701.7)
panel_d(axD2, chronic_rest_rate, chronic_rest_part, chronic_stress_rate, chronic_stress_part,
        chronic_fit_intercept, chronic_fit_slope, ['chronic-rest', 'chronic-stress'],
        (10 ** -2.144, 10 ** 1.19), (10 ** -1.12, 10 ** 2.18))
ftext(55, 632, 'Participation in SPW-R (%)', rotation=90, fontsize=9)
ftext(250, 747, 'Mean Firing rate (Hz)', fontsize=9, fontweight='bold')
ftext(603, 745, 'Mean Firing rate (Hz)', fontsize=9, fontweight='bold')

# ---------------- Panel F ----------------
axF = add_ax(476, 799.3, 778.3, 982.7)
axF.plot(acute_rest_cdf_x, acute_rest_cdf_p, color='black', lw=1.1, label='acute rest')
axF.plot(chronic_rest_cdf_x, chronic_rest_cdf_p, color=BLUE, lw=1.3, label='chronic rest')
axF.set_xlim(-2.43, 62.5)
axF.set_ylim(-0.035, 1.043)
cdf_xticks = list(range(0, 61, 10))
cdf_yticks = [0.0, 0.2, 0.4, 0.6, 0.8, 1.0]
axF.set_xticks(cdf_xticks)
axF.set_xticklabels([str(v) for v in cdf_xticks], fontsize=8.5, fontweight='bold')
axF.set_yticks(cdf_yticks)
axF.set_yticklabels(['%.1f' % v for v in cdf_yticks], fontsize=8.5, fontweight='bold',
                    rotation=90, va='center')
axF.tick_params(axis='x', pad=5)
axF.tick_params(axis='y', pad=5)
legF = axF.legend(loc='lower right', bbox_to_anchor=(1, 0), borderaxespad=0, fancybox=False,
                  edgecolor='black', framealpha=1, handlelength=2.6, handletextpad=1.1,
                  borderpad=0.6, labelspacing=0.3, fontsize=8.5)
legF.get_frame().set_linewidth(1.0)
star_text(532.7, 845, '**', 13)
ftext(431, 890, 'Cumulative Probability', rotation=90, fontsize=9.5)
ftext(627, 1021, 'Particpation in SPW-R (%)', fontsize=9.5, fontweight='bold')

# ---------------- Panel letters ----------------
for s, x, y in [('A', 12, 18), ('B', 15, 232), ('C', 430, 236), ('D', 15, 522), ('E', 13, 757), ('F', 411, 768)]:
    ftext(x, y, s, fontsize=19, fontweight='bold')

fig.savefig('out.png', dpi=100)
